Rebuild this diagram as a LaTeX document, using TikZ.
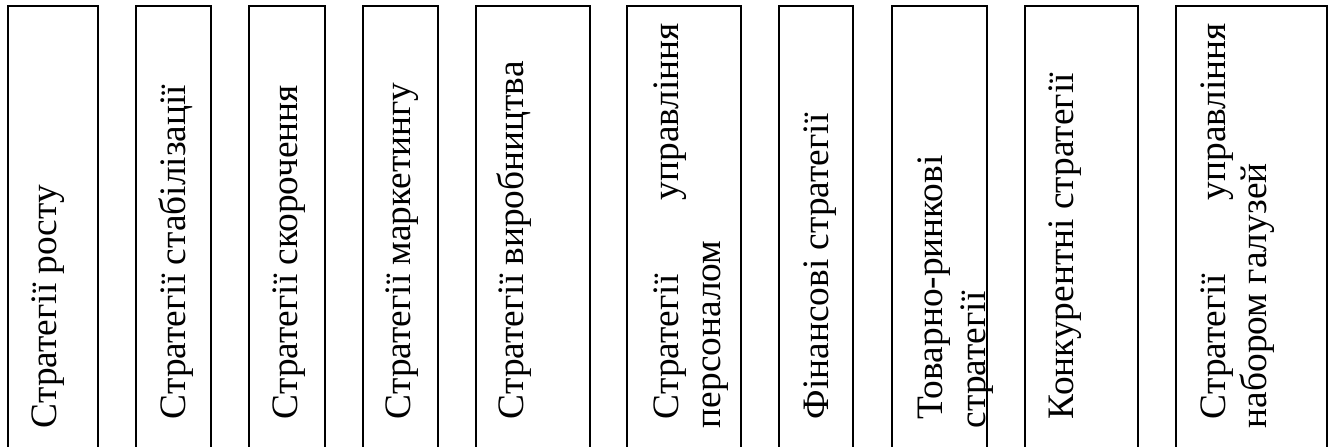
\documentclass[tikz,border=0pt]{standalone}
\usepackage{fontspec}
\setmainfont{Liberation Serif}
\usetikzlibrary{fit}
\begin{document}
\begin{tikzpicture}[x=0.375pt,y=-0.375pt,
  panel/.style={draw=black, line width=0.8pt, inner sep=0pt, outer sep=0pt},
  spine/.style={rotate=90, anchor=base west, inner sep=0pt, outer sep=0pt,
                font=\fontsize{14pt}{16pt}\selectfont}]
\clip (0,0) rectangle (1333,446);
% vertical panels, open at the lower edge
\foreach \l/\r/\n in {8/98/1, 136/211/2, 249/325/3, 363/438/4, 476/590/5,
                      627/741/6, 779/853/7, 892/987/8, 1025/1138/9, 1176/1327/10}
  \node[panel, fit={(\l,6) (\r,480)}] (box\n) {};
% rotated captions, read from bottom to top
\node[spine] (t1)  at (57,428)   {Стратегії росту};
\node[spine] (t2)  at (185,419)  {Стратегії стабілізації};
\node[spine] (t3)  at (297,419)  {Стратегії скорочення};
\node[spine] (t4)  at (410,419)  {Стратегії маркетингу};
\node[spine] (t5)  at (523,419)  {Стратегії виробництва};
\node[spine] (t6a) at (678,419)  {\hbox to 148.5pt{Стратегії\hfill управління}};
\node[spine] (t6b) at (720,428)  {персоналом};
\node[spine] (t7)  at (828,419)  {Фінансові стратегії};
\node[spine] (t8a) at (942,419)  {Товарно-ринкові};
\node[spine] (t8b) at (985,428)  {стратегії};
\node[spine] (t9)  at (1073,419) {Конкурентні стратегії};
\node[spine] (t10a) at (1225,419) {\hbox to 148.5pt{Стратегії\hfill управління}};
\node[spine] (t10b) at (1266,428) {набором галузей};
\end{tikzpicture}
\end{document}
